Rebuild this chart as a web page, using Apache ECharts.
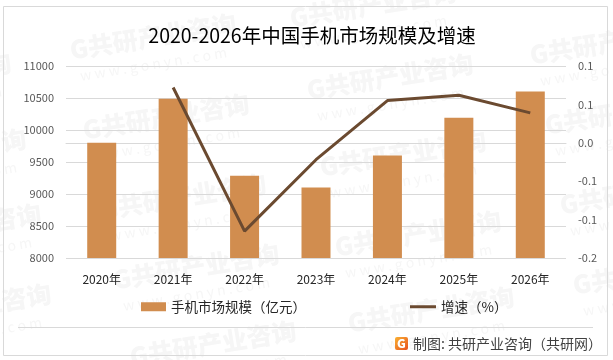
<!DOCTYPE html>
<html>
<head>
<meta charset="utf-8">
<style>
html,body{margin:0;padding:0;background:#fff;}
#main{width:613px;height:360px;}
</style>
<script src="https://cdn.jsdelivr.net/npm/echarts@6/dist/echarts.min.js"></script>
</head>
<body>
<div id="main"></div>
<script>
var titleText = '2020-2026年中国手机市场规模及增速';
var years = ['2020年', '2021年', '2022年', '2023年', '2024年', '2025年', '2026年'];
var marketSize = [9800, 10490, 9285, 9100, 9600, 10190, 10600];
var growthRate = [null, 0.072, -0.115, -0.022, 0.055, 0.062, 0.039];
// the source rounds its right axis to one decimal, so labels repeat
var rightTicks = ['-0.2', '-0.1', '-0.1', '0.0', '0.1', '0.1'];
var barName = '手机市场规模（亿元）';
var lineName = '增速（%）';
var sourceText = '制图: 共研产业咨询（共研网）';

// 水印
var markSpots = [
    [-155, 89], [70, 50], [290, 18], [530, 55],
    [-140, 165], [83, 130], [307, 90], [545, 125],
    [-125, 240], [100, 210], [320, 167], [560, 205],
    [-115, 320], [113, 280], [335, 247], [573, 285],
    [130, 357], [348, 323]
];

var font = '"Noto Sans CJK SC", "Noto Sans", sans-serif';
var graphics = [];

markSpots.forEach(function (p) {
    graphics.push({
        type: 'group', x: p[0], y: p[1], rotation: 0.16, z: -1, silent: true,
        children: [
            {type: 'text', style: {x: 0, y: 0, text: 'G共研产业咨询', font: '900 25px ' + font, fill: '#f6f6f6', textVerticalAlign: 'middle'}},
            {type: 'text', style: {x: 6, y: 27, text: 'w w w . g o n y n . c o m', font: '14px ' + font, fill: '#f6f6f6', textVerticalAlign: 'middle'}}
        ]
    });
});

graphics.push(
    {type: 'rect', shape: {x: 3.5, y: 6.5, width: 604, height: 349}, style: {fill: 'none', stroke: '#d9d9d9', lineWidth: 1}, z: 0, silent: true},
    {type: 'line', shape: {x1: 18, y1: 327.5, x2: 593, y2: 327.5}, style: {stroke: '#d9d9d9', lineWidth: 1}, z: 0, silent: true},
    {type: 'rect', shape: {x: 395, y: 337, width: 13, height: 13, r: 2},
        style: {fill: new echarts.graphic.LinearGradient(0, 0, 1, 1, [{offset: 0, color: '#f9b233'}, {offset: 1, color: '#e8501e'}])}, z: 3, silent: true},
    {type: 'text', style: {x: 401.5, y: 343.5, text: 'G', font: '900 12px ' + font, fill: '#fff', textAlign: 'center', textVerticalAlign: 'middle'}, z: 4, silent: true},
    {type: 'text', style: {x: 413, y: 344, text: sourceText, font: '14px ' + font, fill: '#404040', textVerticalAlign: 'middle'}, z: 4, silent: true}
);

var chart = echarts.init(document.getElementById('main'), null, {renderer: 'canvas'});
chart.setOption({
    animation: false,
    backgroundColor: '#fff',
    title: {
        text: titleText,
        left: 307,
        top: 21,
        textAlign: 'center',
        textStyle: {fontFamily: font, fontSize: 19.5, fontWeight: 'normal', color: '#000'}
    },
    legend: [{
        left: 141,
        top: 300,
        padding: 0,
        itemWidth: 25,
        itemHeight: 9,
        icon: 'rect',
        data: [barName],
        textStyle: {fontFamily: font, fontSize: 13.5, color: '#262626'}
    }, {
        left: 410,
        top: 300,
        padding: 0,
        itemWidth: 26,
        itemHeight: 3,
        icon: 'rect',
        data: [lineName],
        textStyle: {fontFamily: font, fontSize: 13.5, color: '#262626'}
    }],
    grid: {left: 66, right: 47, top: 66, bottom: 102},
    xAxis: {
        type: 'category',
        data: years,
        axisLine: {lineStyle: {color: '#d9d9d9'}},
        axisTick: {show: false},
        axisLabel: {fontFamily: font, fontSize: 12, color: '#262626', margin: 15}
    },
    yAxis: [{
        type: 'value',
        min: 8000,
        max: 11000,
        interval: 500,
        axisLine: {show: false},
        axisTick: {show: false},
        axisLabel: {
            fontFamily: font, fontSize: 11, color: '#595959', margin: 12,
            formatter: function (v) { return String(v); }
        },
        splitLine: {lineStyle: {color: '#d9d9d9'}}
    }, {
        type: 'value',
        min: -0.15,
        max: 0.1,
        interval: 0.05,
        axisLine: {show: false},
        axisTick: {show: false},
        splitLine: {show: false},
        axisLabel: {
            fontFamily: font, fontSize: 11, color: '#595959', margin: 12,
            formatter: function (v, i) { return rightTicks[i]; }
        }
    }],
    series: [{
        name: barName,
        type: 'bar',
        data: marketSize,
        barWidth: 29,
        itemStyle: {color: '#d18d4f'}
    }, {
        name: lineName,
        type: 'line',
        yAxisIndex: 1,
        data: growthRate,
        symbol: 'none',
        connectNulls: false,
        lineStyle: {color: '#6b4a30', width: 3},
        itemStyle: {color: '#6b4a30'}
    }],
    graphic: graphics
});
</script>
</body>
</html>
